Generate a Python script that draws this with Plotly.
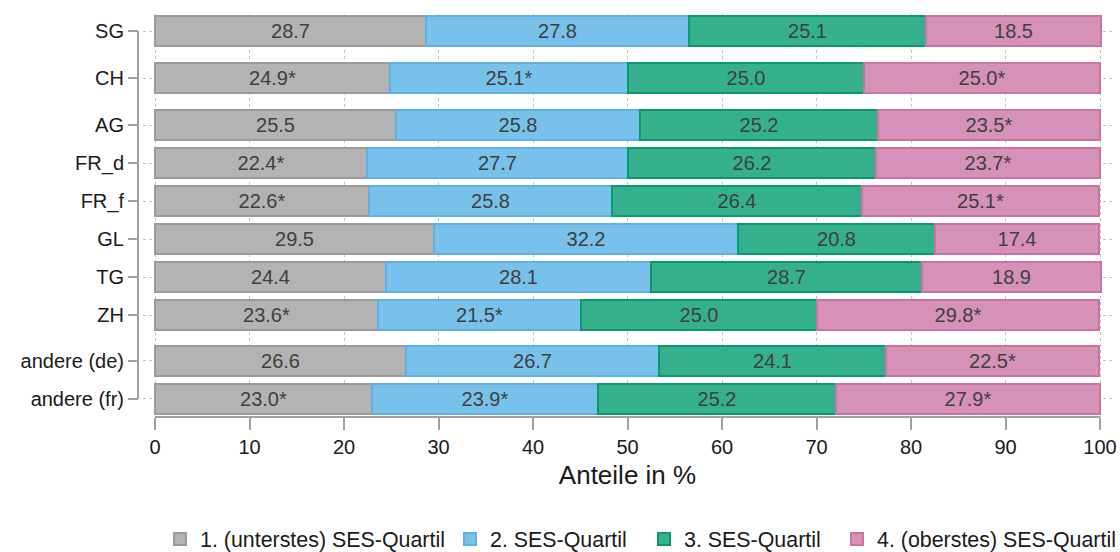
import plotly.graph_objects as go

categories = ["SG", "CH", "AG", "FR_d", "FR_f", "GL", "TG", "ZH", "andere (de)", "andere (fr)"]
series_names = ["1. (unterstes) SES-Quartil", "2. SES-Quartil", "3. SES-Quartil", "4. (oberstes) SES-Quartil"]

q1 = [28.7, 24.9, 25.5, 22.4, 22.6, 29.5, 24.4, 23.6, 26.6, 23.0]
q2 = [27.8, 25.1, 25.8, 27.7, 25.8, 32.2, 28.1, 21.5, 26.7, 23.9]
q3 = [25.1, 25.0, 25.2, 26.2, 26.4, 20.8, 28.7, 25.0, 24.1, 25.2]
q4 = [18.5, 25.0, 23.5, 23.7, 25.1, 17.4, 18.9, 29.8, 22.5, 27.9]

# significance markers (*)
q1_sig = [False, True, False, True, True, False, False, True, False, True]
q2_sig = [False, True, False, False, False, False, False, True, False, True]
q3_sig = [False, False, False, False, False, False, False, False, False, False]
q4_sig = [False, True, True, True, True, False, False, True, True, True]

x_ticks = [0, 10, 20, 30, 40, 50, 60, 70, 80, 90, 100]

# layout: row positions (gaps between groups)
row_pos = [0.0, 1.237, 2.474, 3.474, 4.474, 5.474, 6.474, 7.474, 8.684, 9.684]

fills = ["#b3b3b3", "#77c1ea", "#35b08d", "#d691b6"]
borders = ["#9b9b9b", "#5cb2e8", "#0b9a6f", "#cc73a3"]

W, H = 1120, 552


def px_x(p):
    return p / W


def px_y(p):
    return 1 - p / H


legend_ids = ["legend", "legend2", "legend3", "legend4"]
legend_x_px = [160, 450, 644, 837]

fig = go.Figure()
for name, vals, sig, fc, bc, lid in zip(series_names, [q1, q2, q3, q4],
                                        [q1_sig, q2_sig, q3_sig, q4_sig], fills, borders,
                                        legend_ids):
    labels = [f"{v:.1f}" + ("*" if s else "") for v, s in zip(vals, sig)]
    fig.add_trace(go.Bar(
        x=vals, y=row_pos, orientation="h", name=name, legend=lid, showlegend=True,
        marker=dict(color=fc, line=dict(color=bc, width=2)),
        width=0.79,
        text=labels, textposition="inside", insidetextanchor="middle",
        constraintext="none", textangle=0,
        textfont=dict(family="Liberation Sans, Arial", size=20, color="#404040"),
        hoverinfo="skip",
    ))

ypix_per_unit = 38.0
rng_top = -(31 - 14) / ypix_per_unit
rng_bot = (417 - 31) / ypix_per_unit

legend_common = dict(
    orientation="h", xanchor="left", y=px_y(539), yanchor="middle",
    font=dict(size=21.4, color="#1a1a1a"), itemclick=False,
    bgcolor="rgba(0,0,0,0)",
)

fig.update_layout(
    width=W, height=H,
    showlegend=True,
    barmode="stack",
    bargap=0,
    paper_bgcolor="white", plot_bgcolor="white",
    margin=dict(l=0, r=0, t=0, b=0, autoexpand=False),
    font=dict(family="Liberation Sans, Arial", color="#1a1a1a"),
    xaxis=dict(
        domain=[px_x(143), px_x(1112)], range=[-1.27, 101.27],
        tickvals=x_ticks, ticktext=[str(t) for t in x_ticks],
        ticks="outside", ticklen=12, tickwidth=2, tickcolor="#a0a0a0",
        showgrid=True, griddash="dot", gridcolor="#c4c4c4", gridwidth=1,
        zeroline=False, showline=False,
        tickfont=dict(size=20, color="#1a1a1a"),
        title=dict(text="Anteile in %", font=dict(size=26, color="#1a1a1a"), standoff=8),
        automargin=False,
    ),
    yaxis=dict(
        domain=[px_y(417), px_y(14)], range=[rng_bot, rng_top],
        anchor="free", position=px_x(138),
        tickvals=row_pos, ticktext=categories,
        ticks="outside", ticklen=10, tickwidth=2, tickcolor="#a0a0a0",
        showgrid=True, griddash="dot", gridcolor="#c4c4c4", gridwidth=1,
        zeroline=False, showline=False,
        tickfont=dict(size=20, color="#1a1a1a"),
        automargin=False,
    ),
    shapes=[
        dict(type="line", xref="x", yref="paper", x0=0, x1=100, y0=px_y(417), y1=px_y(417),
             line=dict(color="#a0a0a0", width=2)),
        dict(type="line", xref="paper", yref="y", x0=px_x(138), x1=px_x(138),
             y0=row_pos[0], y1=row_pos[-1], line=dict(color="#a0a0a0", width=2)),
    ],
)
for lid, lx in zip(legend_ids, legend_x_px):
    fig.update_layout({lid: dict(legend_common, x=px_x(lx), visible=True)})

fig.write_html(
    "out.html",
    config={"displayModeBar": False},
    post_script="document.body.style.margin='0';document.body.style.overflow='hidden';",
)
